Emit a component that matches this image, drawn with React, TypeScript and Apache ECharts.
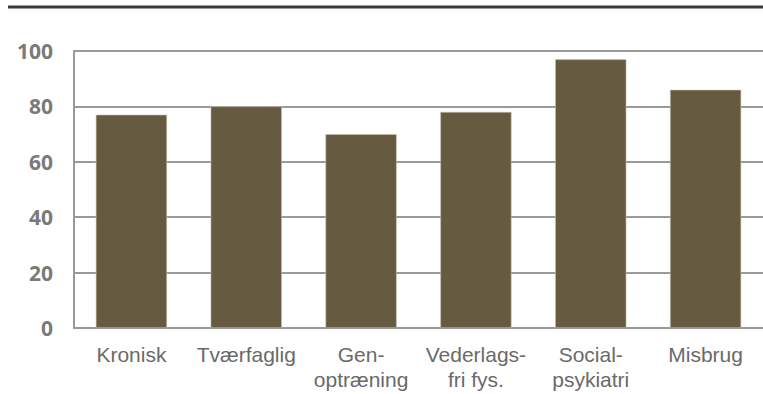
import React, { useEffect, useRef } from "react";
import * as echarts from "echarts";

const categories = [
  "Kronisk",
  "Tværfaglig",
  "Gen-\noptræning",
  "Vederlags-\nfri fys.",
  "Social-\npsykiatri",
  "Misbrug",
];
const values = [77, 80, 70, 78, 97, 86];
const yTicks = { min: 0, max: 100, interval: 20 };

export default function App() {
  const ref = useRef<HTMLDivElement>(null);

  useEffect(() => {
    if (!ref.current) return;
    const chart = echarts.init(ref.current, undefined, { renderer: "svg" });
    chart.setOption({
      animation: false,
      backgroundColor: "#ffffff",
      graphic: [
        {
          type: "line",
          shape: { x1: 8, y1: 7, x2: 763, y2: 7 },
          style: { stroke: "#3a3a3a", lineWidth: 3 },
        },
      ],
      grid: { left: 74, top: 51, width: 694, height: 277 },
      xAxis: {
        type: "category",
        data: categories,
        axisLine: { show: true, lineStyle: { color: "#999999", width: 2 } },
        axisTick: { show: false },
        axisLabel: {
          color: "#6a6a6a",
          fontFamily: "Liberation Sans",
          fontSize: 21,
          lineHeight: 25,
          margin: 14,
          interval: 0,
        },
      },
      yAxis: {
        type: "value",
        min: yTicks.min,
        max: yTicks.max,
        interval: yTicks.interval,
        axisLine: { show: true, lineStyle: { color: "#999999", width: 2 } },
        axisTick: { show: false },
        splitLine: { show: true, lineStyle: { color: "#9a9a9a", width: 2 } },
        axisLabel: {
          color: "#7a7a7a",
          fontFamily: "Open Sans",
          fontSize: 21,
          fontWeight: "bold",
          margin: 21,
          padding: [5, 0, 0, 0],
        },
      },
      series: [
        {
          type: "bar",
          data: values,
          barWidth: "62%",
          itemStyle: {
            color: "#665a41",
            borderColor: "#c9c2b4",
            borderWidth: 0.6,
          },
        },
      ],
    });
    return () => chart.dispose();
  }, []);

  return (
    <div
      ref={ref}
      style={{ position: "fixed", left: 0, top: 0, width: 763, height: 394 }}
    />
  );
}
